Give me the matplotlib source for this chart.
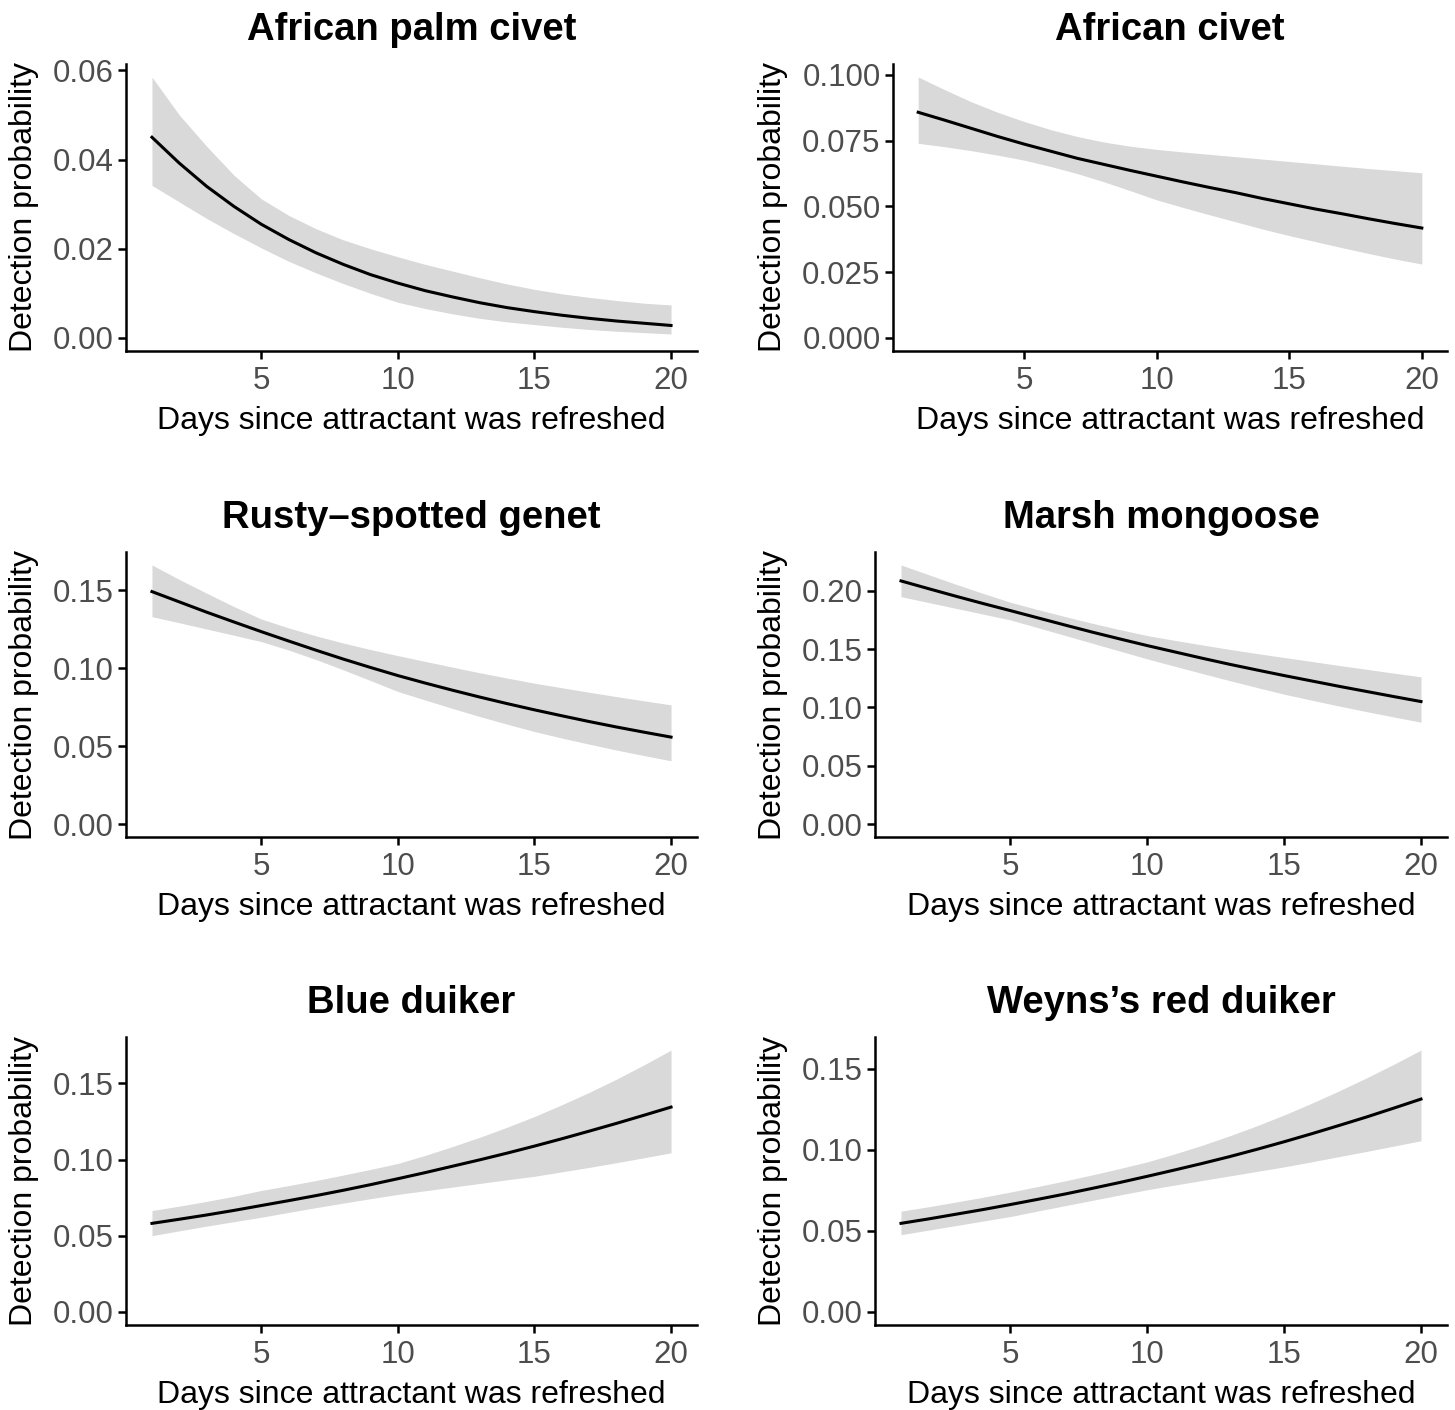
import matplotlib
matplotlib.use('Agg')
import matplotlib.pyplot as plt
import numpy as np

plt.rcParams['font.family'] = ['Liberation Sans', 'DejaVu Sans']

# ─── Data ───────────────────────────────────────────────────────────────────
days = list(range(1, 21))

titles = ['African palm civet', 'African civet', 'Rusty\u2013spotted genet',
          'Marsh mongoose', 'Blue duiker', 'Weyns\u2019s red duiker']

palm_civet_fit = [0.0450, 0.0392, 0.0340, 0.0295, 0.0255, 0.0221, 0.0191, 0.0165, 0.0142, 0.0123,
                  0.0106, 0.0092, 0.0079, 0.0068, 0.0059, 0.0051, 0.0044, 0.0038, 0.0033, 0.0028]
palm_civet_hi = [0.0585, 0.0500, 0.0430, 0.0365, 0.0312, 0.0275, 0.0245, 0.0220, 0.0200, 0.0182,
                 0.0165, 0.0150, 0.0135, 0.0121, 0.0109, 0.0099, 0.0091, 0.0084, 0.0078, 0.0074]
palm_civet_lo = [0.0342, 0.0305, 0.0268, 0.0234, 0.0202, 0.0172, 0.0146, 0.0122, 0.0100, 0.0080,
                 0.0066, 0.0054, 0.0044, 0.0036, 0.0030, 0.0024, 0.0019, 0.0015, 0.0012, 0.0009]

civet_fit = [0.0858, 0.0828, 0.0797, 0.0766, 0.0737, 0.0710, 0.0683, 0.0660, 0.0637, 0.0615,
             0.0593, 0.0572, 0.0552, 0.0530, 0.0510, 0.0490, 0.0472, 0.0453, 0.0435, 0.0418]
civet_hi = [0.0992, 0.0944, 0.0898, 0.0858, 0.0823, 0.0792, 0.0766, 0.0745, 0.0729, 0.0717,
            0.0707, 0.0698, 0.0689, 0.0680, 0.0671, 0.0662, 0.0653, 0.0644, 0.0636, 0.0628]
civet_lo = [0.0740, 0.0727, 0.0712, 0.0695, 0.0676, 0.0652, 0.0625, 0.0594, 0.0560, 0.0525,
            0.0496, 0.0468, 0.0441, 0.0414, 0.0389, 0.0366, 0.0343, 0.0321, 0.0300, 0.0281]

genet_fit = [0.1492, 0.1426, 0.1360, 0.1297, 0.1235, 0.1175, 0.1116, 0.1059, 0.1005, 0.0953,
             0.0905, 0.0859, 0.0815, 0.0773, 0.0733, 0.0695, 0.0658, 0.0623, 0.0590, 0.0558]
genet_hi = [0.1663, 0.1570, 0.1482, 0.1396, 0.1316, 0.1259, 0.1208, 0.1162, 0.1120, 0.1081,
            0.1044, 0.1007, 0.0971, 0.0937, 0.0904, 0.0875, 0.0846, 0.0818, 0.0791, 0.0765]
genet_lo = [0.1331, 0.1292, 0.1252, 0.1212, 0.1171, 0.1117, 0.1056, 0.0990, 0.0921, 0.0851,
            0.0796, 0.0742, 0.0690, 0.0641, 0.0594, 0.0552, 0.0513, 0.0475, 0.0440, 0.0406]

mongoose_fit = [0.2086, 0.2020, 0.1955, 0.1892, 0.1831, 0.1769, 0.1707, 0.1646, 0.1588, 0.1531,
                0.1477, 0.1423, 0.1371, 0.1322, 0.1274, 0.1228, 0.1182, 0.1138, 0.1094, 0.1051]
mongoose_hi = [0.2223, 0.2140, 0.2058, 0.1979, 0.1903, 0.1840, 0.1780, 0.1722, 0.1668, 0.1617,
               0.1576, 0.1537, 0.1499, 0.1463, 0.1429, 0.1395, 0.1361, 0.1328, 0.1295, 0.1263]
mongoose_lo = [0.1951, 0.1901, 0.1851, 0.1801, 0.1751, 0.1685, 0.1618, 0.1551, 0.1484, 0.1417,
               0.1354, 0.1292, 0.1231, 0.1172, 0.1114, 0.1063, 0.1013, 0.0965, 0.0919, 0.0874]

blue_fit = [0.0581, 0.0608, 0.0636, 0.0666, 0.0698, 0.0730, 0.0763, 0.0798, 0.0835, 0.0874,
            0.0914, 0.0956, 0.0998, 0.1042, 0.1088, 0.1136, 0.1186, 0.1237, 0.1290, 0.1344]
blue_hi = [0.0665, 0.0694, 0.0725, 0.0759, 0.0797, 0.0829, 0.0862, 0.0898, 0.0935, 0.0974,
           0.1027, 0.1085, 0.1146, 0.1212, 0.1282, 0.1359, 0.1440, 0.1527, 0.1620, 0.1718]
blue_lo = [0.0500, 0.0532, 0.0563, 0.0592, 0.0621, 0.0653, 0.0684, 0.0714, 0.0743, 0.0771,
           0.0795, 0.0819, 0.0843, 0.0867, 0.0890, 0.0919, 0.0948, 0.0979, 0.1011, 0.1044]

weyns_fit = [0.0546, 0.0573, 0.0602, 0.0631, 0.0662, 0.0694, 0.0727, 0.0762, 0.0798, 0.0836,
             0.0875, 0.0915, 0.0957, 0.1002, 0.1049, 0.1098, 0.1149, 0.1201, 0.1256, 0.1312]
weyns_hi = [0.0621, 0.0648, 0.0677, 0.0707, 0.0739, 0.0773, 0.0808, 0.0845, 0.0884, 0.0925,
            0.0974, 0.1027, 0.1085, 0.1147, 0.1214, 0.1286, 0.1362, 0.1442, 0.1526, 0.1614]
weyns_lo = [0.0476, 0.0504, 0.0532, 0.0560, 0.0588, 0.0622, 0.0655, 0.0688, 0.0721, 0.0753,
            0.0782, 0.0810, 0.0838, 0.0866, 0.0894, 0.0925, 0.0957, 0.0989, 0.1022, 0.1055]

y_ticks = [
    [0.00, 0.02, 0.04, 0.06],
    [0.000, 0.025, 0.050, 0.075, 0.100],
    [0.00, 0.05, 0.10, 0.15],
    [0.00, 0.05, 0.10, 0.15, 0.20],
    [0.00, 0.05, 0.10, 0.15],
    [0.00, 0.05, 0.10, 0.15],
]
y_fmt = ['{:.2f}', '{:.3f}', '{:.2f}', '{:.2f}', '{:.2f}', '{:.2f}']
x_ticks = [5, 10, 15, 20]

series = [
    (palm_civet_fit, palm_civet_lo, palm_civet_hi),
    (civet_fit, civet_lo, civet_hi),
    (genet_fit, genet_lo, genet_hi),
    (mongoose_fit, mongoose_lo, mongoose_hi),
    (blue_fit, blue_lo, blue_hi),
    (weyns_fit, weyns_lo, weyns_hi),
]

# ─── Layout (pixel boxes: left, bottom spine, right, top) ───────────────────
W, H = 1455, 1410
boxes = [
    (126, 351, 697, 64),
    (893, 351, 1447, 64),
    (126, 837, 697, 552),
    (875, 837, 1447, 552),
    (126, 1325, 697, 1037),
    (875, 1325, 1447, 1037),
]

fig = plt.figure(figsize=(W / 100, H / 100), dpi=100)
fig.patch.set_facecolor('white')

for i, (fit, lo, hi) in enumerate(series):
    l, b, r, t = boxes[i]
    ax = fig.add_axes([l / W, 1 - b / H, (r - l) / W, (b - t) / H])
    ax.fill_between(days, lo, hi, color='#D9D9D9', lw=0, zorder=1)
    ax.plot(days, fit, color='black', lw=2.2, zorder=2)

    top = max(hi)
    pad = 0.05 * top
    ax.set_ylim(-pad, top + pad)
    ax.set_xlim(1 - 0.05 * 19, 20 + 0.05 * 19)
    ax.set_yticks(y_ticks[i])
    ax.set_yticklabels([y_fmt[i].format(v) for v in y_ticks[i]])
    ax.set_xticks(x_ticks)

    for s in ('top', 'right'):
        ax.spines[s].set_visible(False)
    for s in ('left', 'bottom'):
        ax.spines[s].set_linewidth(1.8)
    ax.tick_params(width=1.8, length=6, colors='black', labelcolor='#4D4D4D',
                   labelsize=22.5)
    ax.tick_params(axis='x', pad=5)
    ax.tick_params(axis='y', pad=3)

    ax.set_title(titles[i], fontsize=27.5, fontweight='bold', pad=17)
    ax.set_xlabel('Days since attractant was refreshed', fontsize=23, labelpad=7)
    ax.set_ylabel('Detection probability', fontsize=23, labelpad=10)

fig.savefig('out.png', dpi=100, facecolor='white')
